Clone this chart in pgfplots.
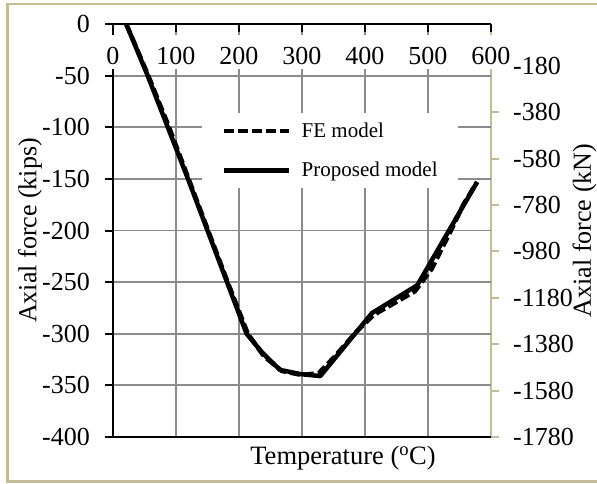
\documentclass[border=0pt]{standalone}
\usepackage{pgfplots}
\pgfplotsset{compat=1.18}
\usepackage{fontspec}
\setmainfont{Liberation Serif}
\definecolor{tanc}{RGB}{196,189,151}
\definecolor{gridgray}{RGB}{140,140,140}
\begin{document}
\begin{tikzpicture}
% secondary (right) axis in kN, drawn first
\begin{axis}[
  at={(113pt,-437pt)}, anchor=south west,
  width=378pt, height=413pt, scale only axis,
  xmin=0, xmax=600, ymin=-1780, ymax=0,
  axis x line=none, axis y line*=right,
  axis line style={tanc, line width=2pt},
  ytick={-1780,-1580,-1380,-1180,-980,-780,-580,-380,-180},
  scaled ticks=false,
  /pgf/number format/1000 sep={},
  /pgf/number format/assume math mode=true,
  tick align=outside, major tick length=8pt,
  every tick/.style={tanc, line width=2pt},
  tick label style={font=\fontsize{26}{31}\selectfont},
  yticklabel style={anchor=west, inner sep=0pt, xshift=14pt},
]
\end{axis}
% primary axis in kips
\begin{axis}[
  at={(113pt,-437pt)}, anchor=south west,
  width=378pt, height=413pt, scale only axis,
  xmin=0, xmax=600, ymin=-400, ymax=0,
  axis x line*=top, axis y line*=left,
  axis line style={black, line width=2.5pt},
  xtick={0,100,...,500}, ytick={-400,-350,...,0},
  extra x ticks={600}, extra x tick style={grid=none},
  scaled ticks=false,
  /pgf/number format/1000 sep={},
  /pgf/number format/assume math mode=true,
  grid=major, grid style={gridgray, line width=1.8pt},
  tick align=inside, major tick length=8pt,
  every tick/.style={black, line width=2pt},
  ytick style={xshift=-8pt},
  tick label style={font=\fontsize{26}{31}\selectfont},
  xticklabel style={anchor=north, inner xsep=2pt, inner ysep=0pt,
     text height=29pt, text depth=5pt, fill=white, yshift=-11pt},
  yticklabel style={anchor=east, inner sep=0pt, xshift=-23pt},
  legend style={at={(0.2354,0.7845)}, anchor=north west, draw=none, fill=white,
    inner xsep=20pt, inner ysep=10pt, row sep=23pt, column sep=10pt,
    font=\fontsize{21}{25}\selectfont, nodes={inner sep=0pt, anchor=west}},
  legend cell align=left,
  legend image code/.code={\draw[#1] (0pt,0pt) -- (65pt,0pt);},
]
\draw[black, line width=2.5pt] (axis cs:0,-400) -- (axis cs:600,-400);
\addplot[black, line width=4.5pt, dash pattern=on 10pt off 4pt] coordinates {
(21,0) (56,-50) (89,-100) (120,-150) (151,-200) (182,-250) (214,-300)
(240,-322) (268,-336) (300,-340) (327,-338) (352,-322) (385,-299) (413,-282)
(479,-259) (506,-237) (538,-198) (556,-175) (578,-153)};
\addlegendentry{FE model}
\addplot[black, line width=4.5pt, line join=round] coordinates {
(21,0) (55,-50) (87,-100) (119,-150) (150,-200) (181,-250) (212,-300)
(238,-319) (265,-335) (297,-339) (329,-341) (372,-309) (411,-280)
(483,-253) (578,-153)};
\addlegendentry{Proposed model}
\end{axis}
\node[font=\fontsize{26.5}{31}\selectfont] at (343pt,-458pt) {Temperature (\textsuperscript{o}C)};
\node[font=\fontsize{26}{31}\selectfont, rotate=90] at (30pt,-230.5pt) {Axial force (kips)};
\node[font=\fontsize{26}{31}\selectfont, rotate=90] at (584.5pt,-230.5pt) {Axial force (kN)};
\draw[tanc, line width=2.5pt] (7.5pt,-4pt) rectangle (602pt,-481.5pt);
\pgfresetboundingbox
\path[use as bounding box] (0pt,0pt) rectangle (597pt,-483pt);
\end{tikzpicture}
\end{document}
